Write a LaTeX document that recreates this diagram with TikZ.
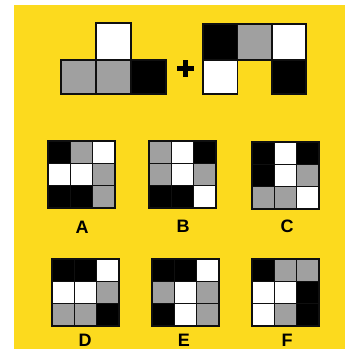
\documentclass[tikz,border=0pt]{standalone}
\usepackage{fontspec}
\setmainfont{Liberation Sans}
\definecolor{bgyellow}{RGB}{252,218,30}
\definecolor{cellgray}{RGB}{160,160,160}
\definecolor{edge}{RGB}{15,15,15}
\tikzset{
  bigcell/.style={draw=edge,line width=1.4pt},
  smallcell/.style={draw=edge,line width=1.1pt},
  optlabel/.style={font=\fontsize{18}{20}\selectfont\bfseries,inner sep=0pt,anchor=center},
}
\newcommand\optgrid[3]{%
  \foreach \c [count=\i from 0] in {#3} {%
    \pgfmathtruncatemacro\rr{\i/3}%
    \pgfmathtruncatemacro\cc{mod(\i,3)}%
    \fill[\c] (#1+\cc*22.33,#2+\rr*22.33) rectangle ++(22.33,22.33);
  }%
  \foreach \k in {1,2} {%
    \draw[smallcell] (#1+\k*22.33,#2) -- ++(0,67);
    \draw[smallcell] (#1,#2+\k*22.33) -- ++(67,0);
  }%
  \draw[smallcell] (#1,#2) rectangle ++(67,67);
}
\begin{document}
\begin{tikzpicture}[x=1pt,y=-1pt]
\useasboundingbox (0,0) rectangle (346,349);
\clip (0,0) rectangle (346,349);
\fill[white] (0,0) rectangle (346,349);
\fill[bgyellow] (14,5) rectangle (345,349);
% left T piece
\filldraw[bigcell,fill=white] (96,23) rectangle (131,60);
\filldraw[bigcell,fill=cellgray] (61,60) rectangle (96,94);
\filldraw[bigcell,fill=cellgray] (96,60) rectangle (131,94);
\filldraw[bigcell,fill=black] (131,60) rectangle (166,94);
% plus
\fill[black] (177,66) rectangle (194,71);
\fill[black] (183,60) rectangle (188,77);
% right piece
\filldraw[bigcell,fill=black] (203,24) rectangle (237.5,60);
\filldraw[bigcell,fill=cellgray] (237.5,24) rectangle (272,60);
\filldraw[bigcell,fill=white] (272,24) rectangle (306,60);
\filldraw[bigcell,fill=white] (203,60) rectangle (237.5,94);
\filldraw[bigcell,fill=black] (272,60) rectangle (306,94);
% options
\optgrid{48}{141}{black,cellgray,white,white,white,cellgray,black,black,cellgray}
\optgrid{149}{141}{cellgray,white,black,cellgray,white,cellgray,black,black,white}
\optgrid{252}{142}{black,white,black,black,white,cellgray,cellgray,cellgray,white}
\optgrid{52}{259}{black,black,white,white,white,cellgray,cellgray,cellgray,black}
\optgrid{152}{259}{black,black,white,cellgray,white,cellgray,black,white,cellgray}
\optgrid{252}{259}{black,cellgray,cellgray,white,white,black,white,cellgray,black}
\node[optlabel] (lA) at (82,227) {A};
\node[optlabel] (lB) at (183,226) {B};
\node[optlabel] (lC) at (287,226) {C};
\node[optlabel] (lD) at (85,340) {D};
\node[optlabel] (lE) at (184,340) {E};
\node[optlabel] (lF) at (287,340) {F};
\end{tikzpicture}
\end{document}
